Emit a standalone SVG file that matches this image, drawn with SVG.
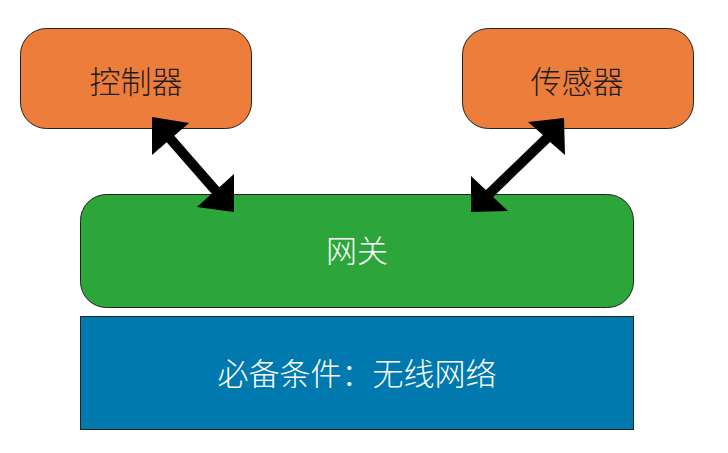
<svg xmlns="http://www.w3.org/2000/svg" width="728" height="453" viewBox="0 0 728 453">
<style>
.box{stroke:#222;stroke-width:1}
.orange{fill:#ED7D3A}
.green{fill:#2CA63A}
.blue{fill:#0079AF}
.t{font-family:"Noto Sans CJK SC","Noto Sans",sans-serif;font-size:31px;font-weight:300;text-anchor:middle;dominant-baseline:central}
.dark{fill:#1e1e1e}
.light{fill:#ffffff}
.arrow{fill:#000}
</style>
<rect width="728" height="453" fill="#fff"/>
<g id="controller">
<rect class="box orange" x="20.5" y="28.5" width="231" height="100" rx="26"/>
<text class="t dark" x="136" y="79">控制器</text>
</g>
<g id="sensor">
<rect class="box orange" x="462.5" y="28.5" width="231" height="100" rx="26"/>
<text class="t dark" x="577" y="79">传感器</text>
</g>
<g id="gateway">
<rect class="box green" x="80.5" y="194.5" width="553" height="113" rx="26"/>
<text class="t light" x="357" y="248">网关</text>
</g>
<g id="network">
<rect class="box blue" x="80.5" y="316.5" width="553" height="113"/>
<text class="t light" x="357" y="371">必备条件：无线网络</text>
</g>
<g id="connectors">
<polygon class="arrow" points="152,117 189,123 174.3,135.7 219.3,187.2 234,174 234,212 197,207 211.7,193.8 166.7,142.3 152,155"/>
<polygon class="arrow" points="564,118 565,155 550.1,142 493.1,197 508,211 471,212 471,176 485.9,190 542.9,135 528,122"/>
</g>
</svg>
